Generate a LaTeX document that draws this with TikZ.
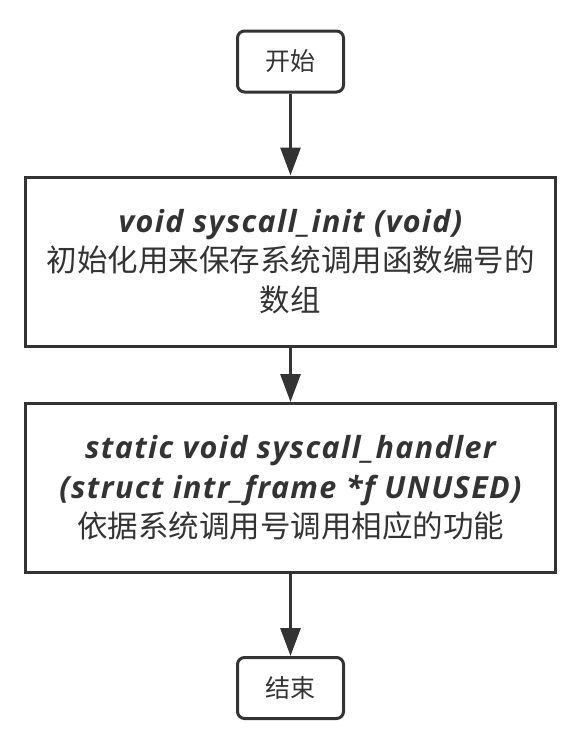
\documentclass[tikz,border=0pt]{standalone}
\usepackage{fontspec}
\setmainfont{Noto Sans CJK SC}
\newfontfamily\codefont[LetterSpace=4.5]{Open Sans}
\usetikzlibrary{arrows.meta}
\definecolor{ink}{HTML}{333333}
\begin{document}
\begin{tikzpicture}[x=1pt,y=-1pt,
  box/.style={draw=ink,line width=3pt,text=ink,align=center,inner sep=0pt},
  term/.style={box,rounded corners=7pt,minimum width=106pt,minimum height=61pt,font=\fontsize{25}{29}\selectfont},
  proc/.style={box,minimum width=530pt,minimum height=169pt,font=\fontsize{30.5}{39.5}\selectfont},
  flow/.style={draw=ink,line width=3pt,-{Triangle[length=28pt,width=20pt]}}]
\useasboundingbox (0,0) rectangle (584,750);
\node[term] (start) at (290.5,61.5) {开始};
\node[proc] (init) at (290.5,261.5) {{\codefont\bfseries\itshape void syscall\_init (void)}\\初始化用来保存系统调用函数编号的\\数组};
\node[proc] (handler) at (290.5,488) {{\codefont\bfseries\itshape static void syscall\_handler}\\{\codefont\bfseries\itshape (struct intr\_frame *f UNUSED)}\\依据系统调用号调用相应的功能};
\node[term] (end) at (290.5,688) {结束};
\draw[flow] (start) -- (init);
\draw[flow] (init) -- (handler);
\draw[flow] (handler) -- (end);
\end{tikzpicture}
\end{document}
